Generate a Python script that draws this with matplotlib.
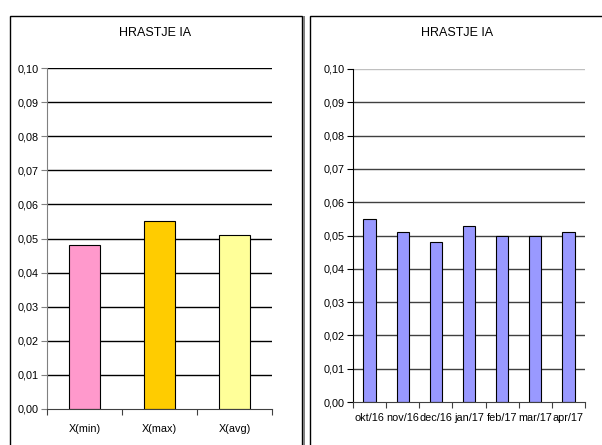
import matplotlib.pyplot as plt
from matplotlib.patches import Rectangle
from matplotlib.ticker import FuncFormatter, MultipleLocator

plt.rcParams['font.family'] = ['Liberation Sans', 'DejaVu Sans']

title = 'HRASTJE IA'
stat_labels = ['X(min)', 'X(max)', 'X(avg)']
stat_values = [0.048, 0.055, 0.051]
stat_colors = ['#FF99CC', '#FFCC00', '#FFFF99']

months = ['okt/16', 'nov/16', 'dec/16', 'jan/17', 'feb/17', 'mar/17', 'apr/17']
month_values = [0.055, 0.051, 0.048, 0.053, 0.050, 0.050, 0.051]

W, H = 602, 445
fig = plt.figure(figsize=(W / 100, H / 100), dpi=100)


def px_axes(x0, y0, x1, y1):
    # pixel box (top-left origin) -> figure axes
    return fig.add_axes([x0 / W, 1 - y1 / H, (x1 - x0) / W, (y1 - y0) / H])


def frame(x0, y0, x1, y1, color='black', lw=1.0):
    fig.patches.append(Rectangle((x0 / W, 1 - y1 / H), (x1 - x0) / W, (y1 - y0) / H,
                                 transform=fig.transFigure, fill=False,
                                 edgecolor=color, linewidth=lw))


# chart frames (run past the bottom edge)
frame(9.5, 15.5, 302, 460)
fig.patches.append(Rectangle((302.5 / W, 0), 2 / W, 1 - 15.5 / H,
                             transform=fig.transFigure, color='#808080', lw=0))
frame(309.5, 15.5, 620, 460)


def style(ax, n, grid_colors, spine_color):
    ax.set_xlim(0, n)
    ax.set_ylim(0, 0.10)
    ax.yaxis.set_major_locator(MultipleLocator(0.01))
    ax.yaxis.set_major_formatter(FuncFormatter(lambda v, p: f'{v:.2f}'.replace('.', ',')))
    for i, c in enumerate(grid_colors):
        ax.axhline(0.01 * (i + 1), color=c, lw=1.0, zorder=0)
    for s in ['top', 'right']:
        ax.spines[s].set_visible(False)
    ax.spines['left'].set_color(spine_color)
    ax.spines['bottom'].set_color('#404040')
    ax.tick_params(axis='y', length=4, width=0.8, labelsize=7.8, pad=2, color=spine_color)
    ax.set_xticks(range(n + 1))
    ax.set_xticklabels([])
    ax.set_xticks([i + 0.5 for i in range(n)], minor=True)
    ax.tick_params(axis='x', which='major', length=4, width=0.8, direction='out', color='#404040')
    ax.tick_params(axis='x', which='minor', length=0, labelsize=7.8)
    ax.set_facecolor('none')


# left chart: min / max / average
ax1 = px_axes(47, 68, 272, 409)
ax1.bar([i + 0.5 for i in range(3)], stat_values, width=0.41, color=stat_colors,
        edgecolor='black', linewidth=0.8, zorder=2)
style(ax1, 3, ['black'] * 10, '#808080')
ax1.set_xticklabels(stat_labels, minor=True)
ax1.tick_params(axis='x', which='minor', pad=11)
fig.text(155 / W, 1 - 33 / H, title, ha='center', va='center', fontsize=9)

# right chart: monthly values
ax2 = px_axes(353, 69, 585, 402)
ax2.bar([i + 0.5 for i in range(7)], month_values, width=0.37, color='#9999FF',
        edgecolor='black', linewidth=0.8, zorder=2)
style(ax2, 7, ['#404040'] * 9 + ['#C0C0C0'], 'black')
ax2.set_xticklabels(months, minor=True)
ax2.tick_params(axis='x', which='minor', pad=8)
fig.text(457 / W, 1 - 33 / H, title, ha='center', va='center', fontsize=9)

fig.savefig('out.png', dpi=100)
